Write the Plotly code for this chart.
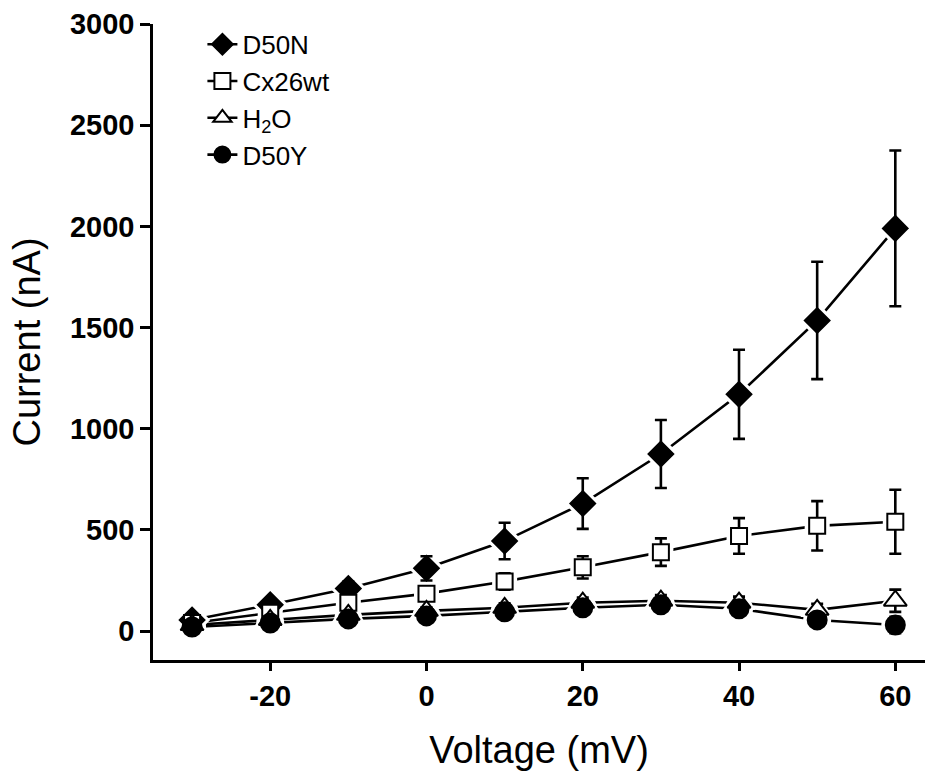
import plotly.graph_objects as go

voltage = [-30, -20, -10, 0, 10, 20, 30, 40, 50, 60]

d50n = [55, 130, 210, 310, 445, 630, 875, 1170, 1535, 1990]
d50n_err = [20, 25, 35, 60, 90, 125, 168, 220, 290, 385]

cx26 = [40, 90, 140, 185, 245, 315, 390, 470, 520, 540]
cx26_err = [15, 20, 30, 35, 40, 55, 68, 88, 122, 158]

h2o = [30, 55, 80, 100, 115, 140, 150, 140, 105, 150]
h2o_err = [10, 12, 15, 18, 22, 25, 28, 30, 30, 55]

d50y = [20, 40, 60, 75, 95, 115, 130, 110, 55, 30]
d50y_err = [8, 10, 12, 14, 15, 18, 20, 20, 22, 40]

x_tickvals = [-20, 0, 20, 40, 60]
x_ticktext = ["-20", "0", "20", "40", "60"]
y_tickvals = [0, 500, 1000, 1500, 2000, 2500, 3000]

series = [
    ("D50N", d50n, d50n_err, "diamond", "black", 19),
    ("Cx26wt", cx26, cx26_err, "square", "white", 16),
    ("H<sub>2</sub>O", h2o, h2o_err, "triangle-up", "white", 20),
    ("D50Y", d50y, d50y_err, "circle", "black", 19),
]

FONT = "Arial, Liberation Sans, sans-serif"
LW = 2.6

fig = go.Figure()
# connecting lines
for name, vals, errs, sym, fill, size in series:
    fig.add_trace(go.Scatter(x=voltage, y=vals, mode="lines", showlegend=False,
                             line=dict(color="black", width=LW), hoverinfo="skip"))
# white halos that create small gaps between lines and markers
for name, vals, errs, sym, fill, size in series:
    fig.add_trace(go.Scatter(x=voltage, y=vals, mode="markers", showlegend=False,
                             marker=dict(symbol=sym, size=size + 9, color="white",
                                         line=dict(width=0)), hoverinfo="skip"))
# markers with error bars
for name, vals, errs, sym, fill, size in series:
    fig.add_trace(go.Scatter(
        x=voltage, y=vals, name=name, mode="markers", showlegend=False,
        marker=dict(symbol=sym, size=size, color=fill,
                    line=dict(color="black", width=2)),
        error_y=dict(type="data", array=errs, visible=True,
                     color="black", thickness=2.6, width=6),
    ))
# legend entries
for name, vals, errs, sym, fill, size in series:
    fig.add_trace(go.Scatter(
        x=[None], y=[None], name=name, mode="lines+markers",
        line=dict(color="black", width=LW),
        marker=dict(symbol=sym, size=size, color=fill,
                    line=dict(color="black", width=2)),
    ))

fig.update_layout(
    width=927, height=779,
    margin=dict(l=153, r=2, t=24, b=119),
    paper_bgcolor="white", plot_bgcolor="white",
    font=dict(family=FONT, color="black"),
    showlegend=True,
    legend=dict(x=0.064, y=1.005, xanchor="left", yanchor="top",
                font=dict(size=26, family=FONT),
                bgcolor="rgba(0,0,0,0)", tracegroupgap=0, itemsizing="trace"),
    xaxis=dict(range=[-35, 63.8], tickvals=x_tickvals, ticktext=x_ticktext,
               showgrid=False, zeroline=False, showline=True, linecolor="black",
               linewidth=2.5, ticks="outside", ticklen=8, tickwidth=2.5, tickcolor="black",
               tickfont=dict(size=29, family=FONT, weight="bold"),
               title=dict(text="Voltage (mV)", font=dict(size=38, family=FONT), standoff=26)),
    yaxis=dict(range=[-143, 3000], tickvals=y_tickvals,
               showgrid=False, zeroline=False, showline=True, linecolor="black",
               linewidth=2.5, ticks="outside", ticklen=10, tickwidth=2.5, tickcolor="black",
               tickfont=dict(size=29, family=FONT, weight="bold"),
               title=dict(text="Current (nA)", font=dict(size=38, family=FONT), standoff=18)),
)

fig.write_html("out.html")
